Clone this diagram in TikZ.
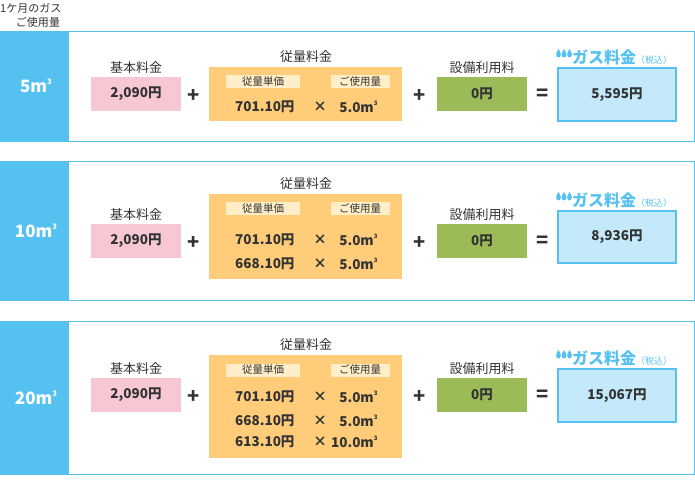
\documentclass[tikz,border=0pt]{standalone}
\usepackage{fontspec}
\setmainfont{Noto Sans CJK JP}
\definecolor{cblue}{HTML}{55C1F0}
\definecolor{cpink}{HTML}{F7C8D3}
\definecolor{corange}{HTML}{FFCC7A}
\definecolor{clabel}{HTML}{FFEEC8}
\definecolor{cgreen}{HTML}{9BBB59}
\definecolor{cres}{HTML}{C3E9FA}
\definecolor{ctext}{HTML}{333333}
\newcommand{\mcube}{m\raisebox{0.9ex}{\scalebox{0.45}{3}}}
\newcommand{\drop}[2]{\fill[cblue] (#1,#2) .. controls (#1+3,#2+4) and (#1+3.2,#2+8) .. (#1,#2+8.5) .. controls (#1-3.2,#2+8) and (#1-3,#2+4) .. (#1,#2);}
\tikzset{
  outer/.style={draw=cblue,line width=0.8pt,fill=white},
  rowlab/.style={text=white,font=\fontsize{17}{17}\selectfont\bfseries},
  ttl/.style={text=ctext,font=\fontsize{13}{13}\selectfont},
  val/.style={text=ctext,font=\fontsize{13.5}{13}\selectfont\bfseries},
  lab/.style={fill=clabel,minimum width=74pt,minimum height=13pt,inner sep=0pt,text=ctext,font=\fontsize{10.5}{10}\selectfont},
  op/.style={text=ctext,font=\fontsize{20}{20}\selectfont\bfseries},
}
\begin{document}
\begin{tikzpicture}[x=1pt,y=-1pt]
\useasboundingbox (0,0) rectangle (695,486);
\node[text=ctext,font=\fontsize{11}{11}\selectfont,anchor=west,inner sep=0pt] (h1) at (0,8) {1ケ月のガス};
\node[text=ctext,font=\fontsize{11}{11}\selectfont] (h2) at (38,22) {ご使用量};
\foreach \ri/\vta/\vbo/\vot/\vob/\vpt/\vrt/\vrb/\vlbl/\vres in {
  1/31/141/67/121/77/68/121/5/5{,}595,
  2/161/300/194/279/224/211/263/10/8{,}936,
  3/321/474/355/458/378/369/422/20/15{,}067}{
  \draw[outer] (0,\vta) rectangle (694,\vbo);
  \fill[cblue] (0,\vta) rectangle (69,\vbo);
  \node[rowlab] (rl\ri) at (36,{(\vta+\vbo)/2}) {\vlbl\mcube};
  \node[ttl] (kt\ri) at (136,\vpt-9) {基本料金};
  \fill[cpink] (91,\vpt) rectangle (181,\vpt+34);
  \node[val] (kv\ri) at (136,\vpt+17) {2,090円};
  \node[op] (pa\ri) at (194,\vpt+19) {+};
  \node[ttl] (jt\ri) at (306,\vot-10) {従量料金};
  \fill[corange] (209,\vot) rectangle (402,\vob);
  \node[lab] (la\ri) at (263,\vot+15) {従量単価};
  \node[lab,minimum width=59pt] (lb\ri) at (360,\vot+15) {ご使用量};
  \node[ttl] (st\ri) at (482,\vpt-9) {設備利用料};
  \fill[cgreen] (437,\vpt) rectangle (527,\vpt+34);
  \node[val] (sv\ri) at (482,\vpt+17) {0円};
  \node[op] (pb\ri) at (420,\vpt+19) {+};
  \node[op] (eq\ri) at (543,\vpt+18) {=};
  \draw[cblue,line width=2pt,fill=cres] (558,\vrt) rectangle (676,\vrb);
  \node[val] (rv\ri) at (617,{(\vrt+\vrb)/2}) {\vres 円};
  \node[text=cblue,font=\fontsize{16}{16}\selectfont\bfseries,anchor=west,inner sep=0pt] (rt\ri) at (572,\vrt-11) {ガス料金\fontsize{9}{9}\selectfont\mdseries（税込）};
  \drop{558.5}{\vrt-19}\drop{564}{\vrt-19}\drop{569.5}{\vrt-19}
}
\tikzset{v1/.style={val,anchor=east}}
\node[v1] (a1) at (298,107) {701.10円}; \node[val] (x1) at (320,107) {×}; \node[v1] (b1) at (381,107) {5.0\mcube};
\node[v1] (a2) at (298,240) {701.10円}; \node[val] (x2) at (320,240) {×}; \node[v1] (b2) at (381,240) {5.0\mcube};
\node[v1] (a3) at (298,264) {668.10円}; \node[val] (x3) at (320,264) {×}; \node[v1] (b3) at (381,264) {5.0\mcube};
\node[v1] (a4) at (298,397) {701.10円}; \node[val] (x4) at (320,397) {×}; \node[v1] (b4) at (381,397) {5.0\mcube};
\node[v1] (a5) at (298,421) {668.10円}; \node[val] (x5) at (320,421) {×}; \node[v1] (b5) at (381,421) {5.0\mcube};
\node[v1] (a6) at (298,442) {613.10円}; \node[val] (x6) at (320,442) {×}; \node[v1] (b6) at (381,442) {10.0\mcube};
\end{tikzpicture}
\end{document}
